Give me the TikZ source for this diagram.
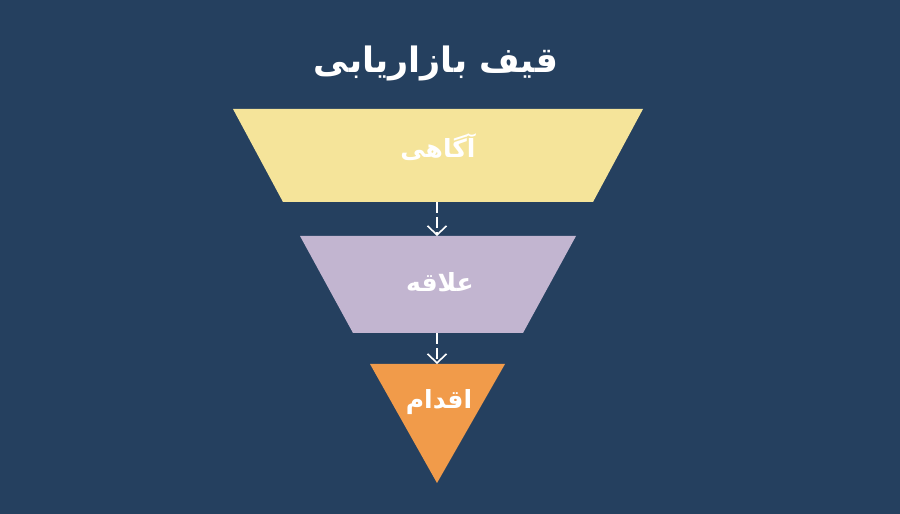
\documentclass[tikz,border=0pt]{standalone}
\usepackage{fontspec}
\TeXXeTstate=1
\newfontfamily\arabicfont[Script=Arabic]{DejaVu Sans}
\usetikzlibrary{arrows.meta}
\definecolor{bgblue}{RGB}{37,64,95}
\definecolor{fyellow}{RGB}{245,228,154}
\definecolor{flav}{RGB}{194,181,208}
\definecolor{forange}{RGB}{241,155,74}
\tikzset{
  lbl/.style={text=white,font=\arabicfont\bfseries\fontsize{25}{28}\selectfont,inner sep=0pt},
  flow/.style={draw=white,line width=1.6pt,dash pattern=on 11pt off 4pt,-{Straight Barb[length=9pt,width=19pt,line width=1.6pt]}}
}
\begin{document}
\begin{tikzpicture}[x=1pt,y=1pt]
\fill[bgblue] (0,0) rectangle (900,514);
\useasboundingbox (0,0) rectangle (900,514);
% stages
\fill[fyellow] (233,405) -- (643,405) -- (593,312) -- (283,312) -- cycle;
\fill[flav] (300,278) -- (576,278) -- (523,181) -- (353,181) -- cycle;
\fill[forange] (370,150) -- (505,150) -- (437,31) -- cycle;
\coordinate (s1b) at (437,312);
\coordinate (s2t) at (437,278);
\coordinate (s2b) at (437,181);
\coordinate (s3t) at (437,150);
\node[text=white,font=\arabicfont\bfseries\fontsize{35}{40}\selectfont,inner sep=0pt] (title) at (436,451) {\beginR قیف بازاریابی\endR};
\node[lbl] (l1) at (438,367) {\beginR آگاهی\endR};
\node[lbl] (l2) at (440,232) {\beginR علاقه\endR};
\node[lbl] (l3) at (439,112) {\beginR اقدام\endR};
\draw[flow] (s1b) -- (s2t);
\draw[flow] (s2b) -- (s3t);
\end{tikzpicture}
\end{document}
